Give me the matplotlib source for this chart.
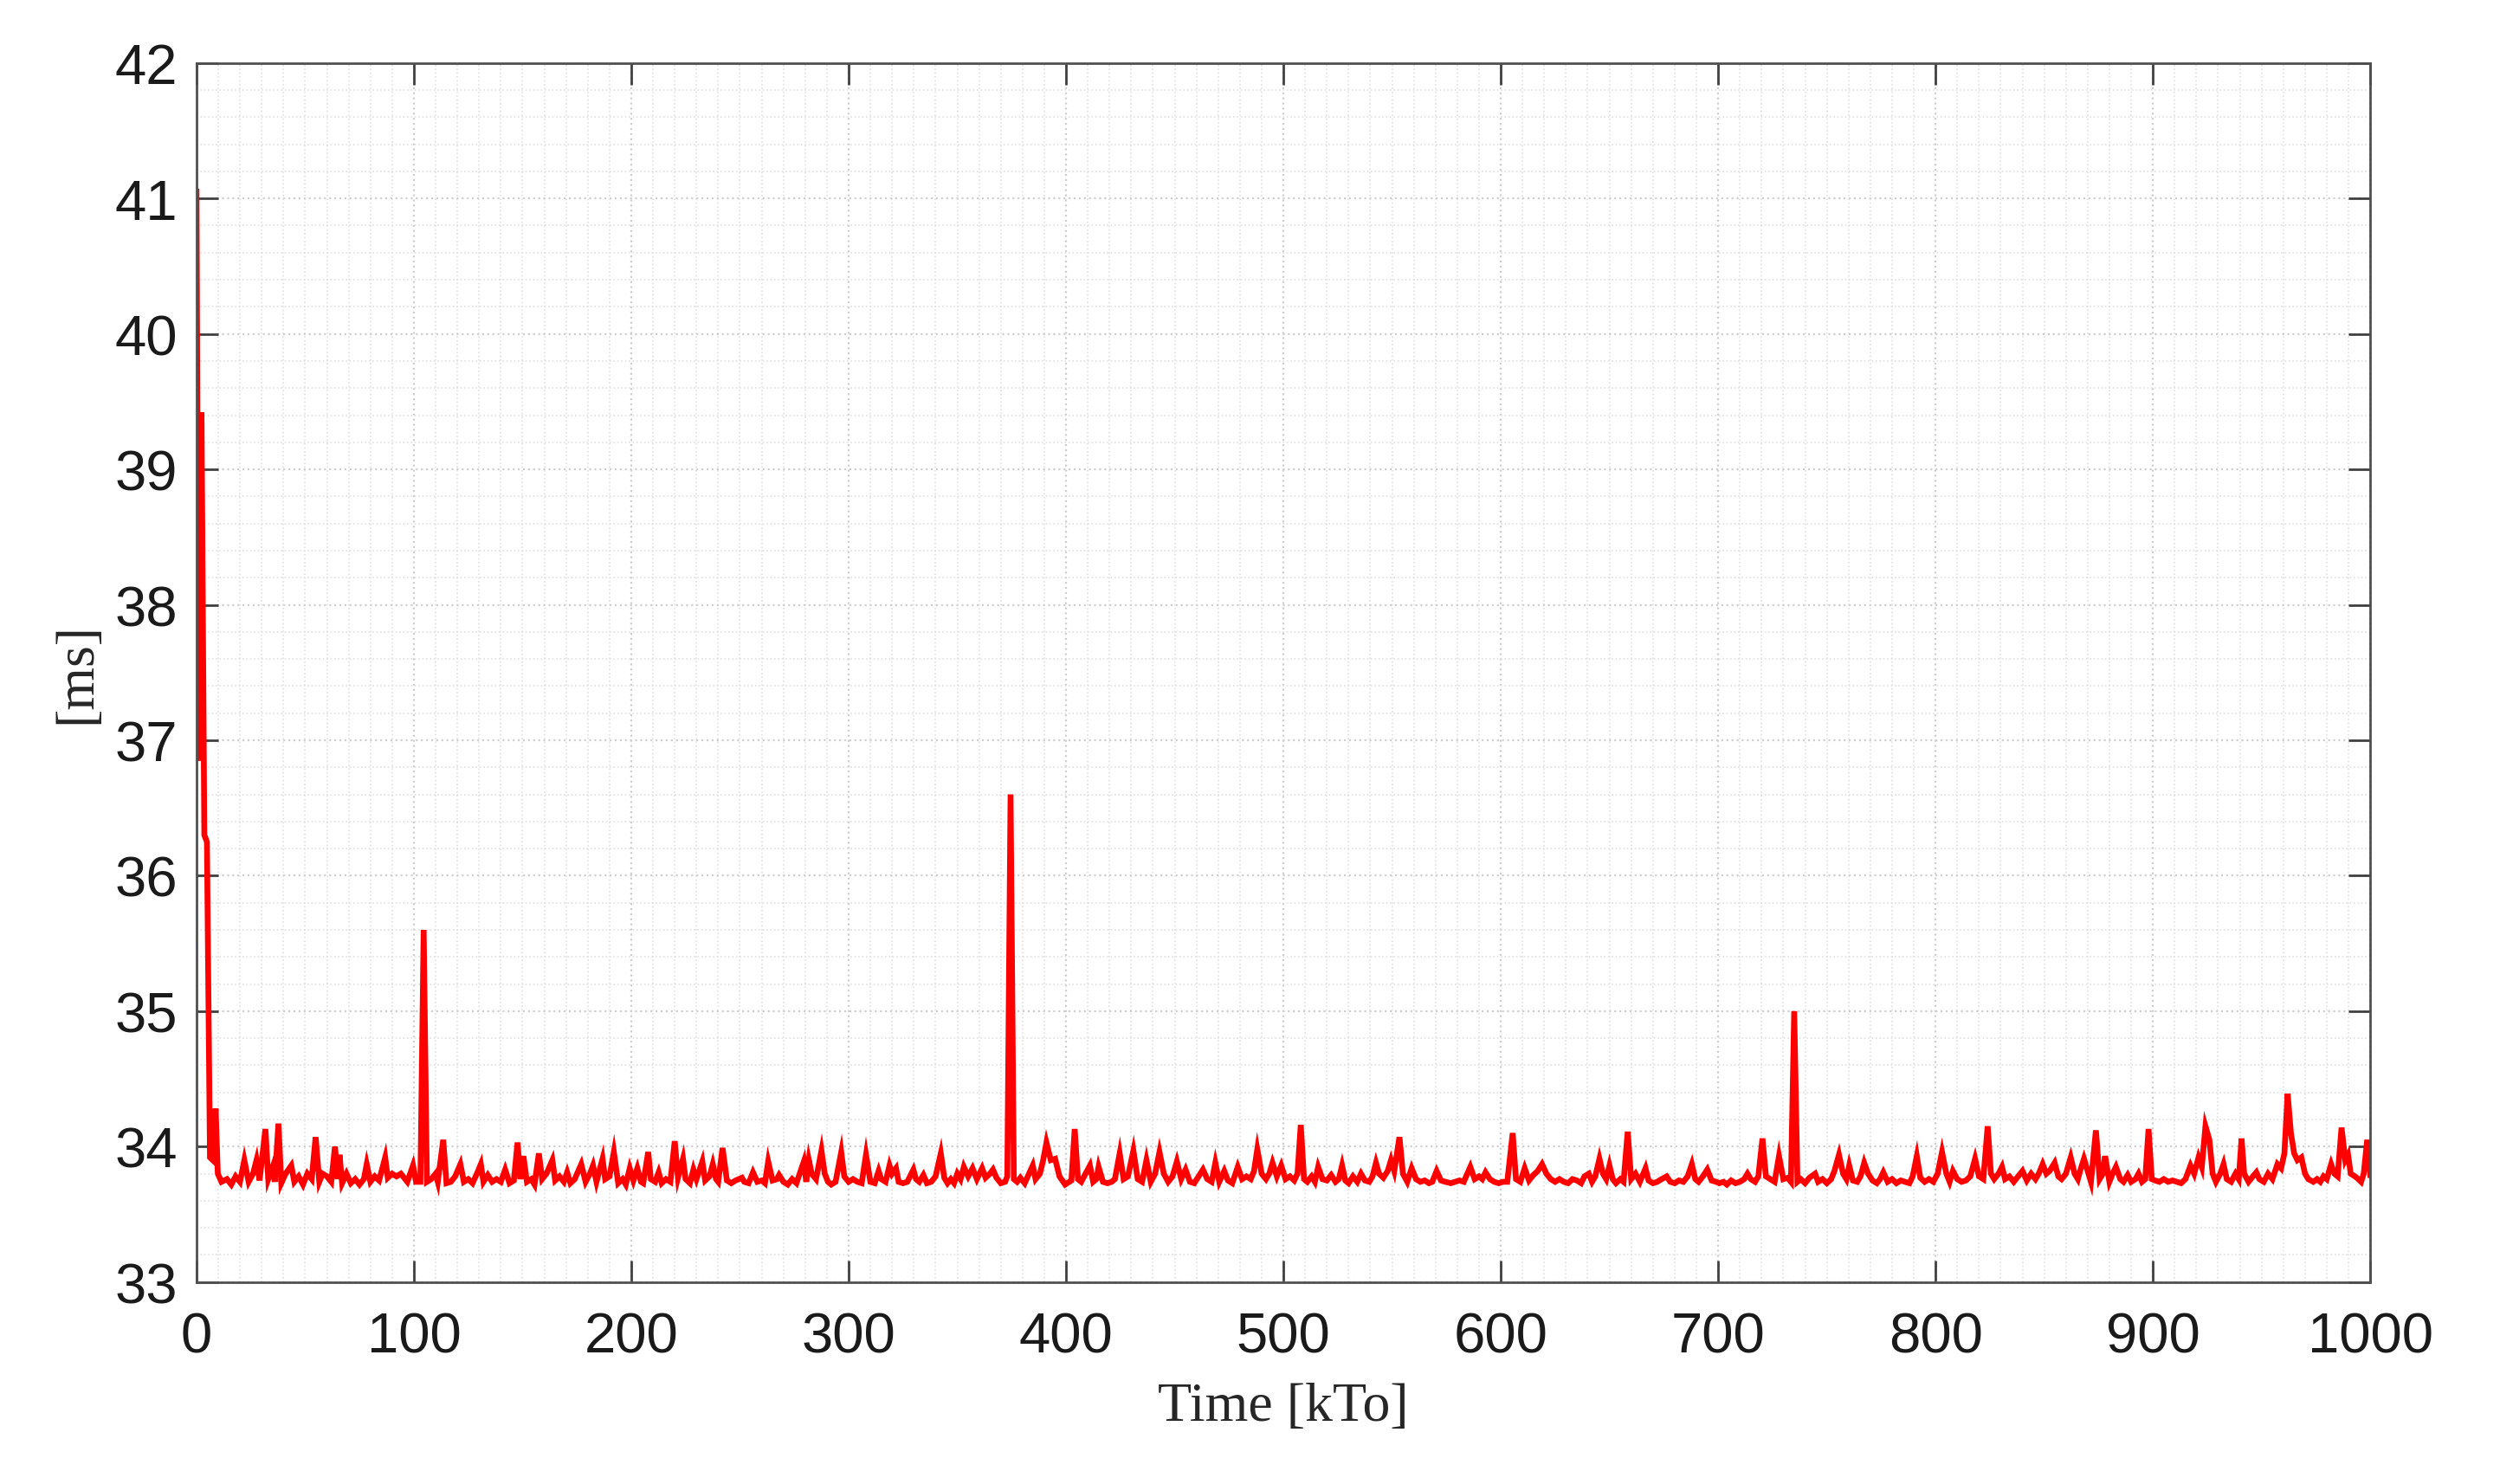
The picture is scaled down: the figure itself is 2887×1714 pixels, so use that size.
"""
Latency over time, recreated from the reference figure
"""

import matplotlib
matplotlib.use("Agg")
import matplotlib.pyplot as plt
from matplotlib import font_manager
from matplotlib.ticker import MultipleLocator

# data: (time [kTo], latency [ms])
startup = [(0, 41.05), (1.0, 36.85), (2.3, 39.42), (3.6, 36.3), (4.8, 36.25), (6.2, 33.92),
           (7.5, 33.9), (8.8, 34.28), (9.8, 33.8), (11.5, 33.74)]

seg_12_268 = [
    (14, 33.76), (16, 33.72), (18, 33.78), (20, 33.74), (22, 33.90), (24, 33.74), (26, 33.8),
    (27.6, 33.90), (29, 33.75), (31.7, 34.13), (33, 33.76), (35, 33.85), (36, 33.74), (37.7, 34.17),
    (39, 33.73), (41, 33.8), (43.6, 33.86), (45, 33.74), (47, 33.78), (49, 33.72), (51, 33.8),
    (53, 33.76), (54.8, 34.07), (56.5, 33.74), (58, 33.8), (60, 33.78), (62, 33.74), (63.7, 34.0),
    (65, 33.76), (65.8, 33.94), (67, 33.73), (69, 33.8), (71, 33.73), (73, 33.76), (75, 33.72),
    (77, 33.76), (78.3, 33.87), (80, 33.74), (82, 33.78), (84, 33.75), (86.8, 33.92), (88, 33.77),
    (90, 33.8), (92, 33.78), (94, 33.8), (96, 33.76), (97, 33.74), (99.6, 33.86), (101, 33.74),
    (103, 33.74), (104.5, 35.6), (106, 33.74), (108, 33.76), (110, 33.8), (111, 33.74), (113.5, 34.05),
    (115, 33.73), (117, 33.74), (119, 33.78), (121.4, 33.87), (123, 33.74), (125, 33.76), (127, 33.73),
    (129, 33.8), (130.8, 33.87), (132, 33.74), (134, 33.79), (136, 33.74), (138, 33.76), (140, 33.74),
    (142, 33.83), (144, 33.73), (146, 33.75), (147.7, 34.03), (149, 33.76), (150.4, 33.93), (152, 33.74),
    (154, 33.76), (155.5, 33.72), (157.5, 33.95), (159, 33.76), (161, 33.8), (163.7, 33.90), (165, 33.75),
    (167, 33.78), (169, 33.74), (170.5, 33.81), (172, 33.73), (174, 33.76), (177, 33.87), (179, 33.74),
    (181, 33.8), (182.4, 33.86), (184, 33.74), (186.8, 33.91), (188, 33.76), (190, 33.78), (192, 33.96),
    (194, 33.73), (196, 33.76), (197.5, 33.72), (199.3, 33.84), (201, 33.75), (202.8, 33.84), (204.5, 33.74),
    (205.5, 33.73), (207.8, 33.96), (209, 33.76), (211, 33.74), (212.6, 33.81), (214, 33.73), (216, 33.76),
    (218, 33.74), (220, 34.04), (221.5, 33.77), (223.8, 33.91), (225, 33.76), (227, 33.73), (228.6, 33.83),
    (230, 33.76), (232.7, 33.89), (234, 33.75), (236, 33.78), (237.5, 33.87), (239, 33.76), (240, 33.74),
    (242, 33.99), (244, 33.75), (246, 33.73), (248, 33.75), (250.9, 33.77), (252, 33.74), (254, 33.73),
    (256, 33.81), (258, 33.74), (260, 33.75), (261.5, 33.73), (263, 33.89), (265, 33.75), (267, 33.76),
]

seg_268_627 = [
    (268, 33.79), (270, 33.74), (272, 33.72), (274, 33.76), (276, 33.73), (279.4, 33.89), (280.5, 33.74),
    (281.7, 33.9), (283, 33.8), (285, 33.76), (287.5, 33.97), (289, 33.8), (290.5, 33.74), (292, 33.72),
    (294, 33.74), (296.6, 33.96), (298, 33.78), (300, 33.74), (302, 33.76), (304, 33.74), (306, 33.73),
    (308, 33.94), (310, 33.74), (312, 33.73), (313.8, 33.82), (315, 33.76), (317, 33.74), (318.8, 33.86),
    (320, 33.8), (321.8, 33.84), (323, 33.74), (325, 33.73), (327, 33.74), (329.8, 33.83), (331, 33.76),
    (332.5, 33.74), (334.4, 33.79), (336, 33.73), (338, 33.74), (340, 33.78), (342.4, 33.95), (344, 33.77),
    (345.5, 33.73), (347, 33.76), (348.5, 33.73), (350, 33.8), (351.5, 33.76), (353, 33.85), (355, 33.78),
    (357, 33.84), (359, 33.76), (361.4, 33.84), (363, 33.77), (365, 33.8), (366.4, 33.83), (368, 33.77),
    (370, 33.73), (372, 33.74), (373, 33.78), (374.5, 36.6), (376, 33.76), (377.5, 33.74), (379, 33.77),
    (381, 33.73), (383, 33.8), (384.7, 33.86), (386, 33.76), (388, 33.8), (389.5, 33.9), (391, 34.03),
    (393, 33.9), (395, 33.91), (397, 33.78), (399.6, 33.72), (401.5, 33.74), (402.5, 33.75), (404, 34.13),
    (405.5, 33.76), (407, 33.74), (409, 33.8), (411, 33.86), (412.5, 33.74), (414, 33.76), (415, 33.85),
    (417, 33.74), (419, 33.73), (421, 33.74), (422.5, 33.76), (424.7, 33.95), (426.5, 33.76), (428.5, 33.78),
    (431, 33.97), (433, 33.76), (435, 33.74), (437, 33.9), (439, 33.74), (441, 33.8), (443, 33.96),
    (445, 33.8), (447, 33.74), (449, 33.78), (451, 33.89), (453, 33.76), (455, 33.83), (457, 33.74),
    (459, 33.73), (461, 33.78), (463, 33.83), (465, 33.76), (467, 33.74), (468.7, 33.88), (470.5, 33.74),
    (472.8, 33.82), (474.5, 33.75), (476.5, 33.73), (479, 33.85), (481, 33.76), (483, 33.78), (485, 33.76),
    (486.5, 33.82), (488, 33.98), (490, 33.8), (492, 33.76), (493.5, 33.8), (495, 33.88), (497, 33.78),
    (499, 33.86), (501, 33.76), (503, 33.78), (505, 33.75), (506.5, 33.8), (508, 34.16), (509.5, 33.76),
    (511, 33.74), (513, 33.78), (514.5, 33.74), (516, 33.85), (518, 33.76), (520, 33.75), (522, 33.79),
    (524, 33.74), (525.5, 33.76), (527, 33.86), (528.5, 33.75), (530, 33.73), (532, 33.78), (534, 33.74),
    (535.7, 33.8), (537.5, 33.75), (539.5, 33.74), (541, 33.78), (542.6, 33.88), (544, 33.8), (546, 33.77),
    (548, 33.82), (549.5, 33.9), (551, 33.82), (553.4, 34.07), (555, 33.8), (557, 33.74), (559, 33.84),
    (561, 33.76), (563, 33.74), (565, 33.75), (567, 33.73), (568.5, 33.74), (570.5, 33.82), (572.5, 33.75),
    (574.5, 33.74), (577, 33.73), (579, 33.74), (581, 33.75), (583, 33.74), (586, 33.85), (588, 33.76),
    (590, 33.78), (591.5, 33.76), (593, 33.81), (595, 33.76), (597, 33.74), (599, 33.73), (601, 33.74),
    (603, 33.74), (605.5, 34.10), (607, 33.76), (609, 33.74), (611, 33.84), (613, 33.75), (615, 33.79),
    (617, 33.82), (619, 33.87), (621, 33.8), (623, 33.76), (625, 33.74), (627, 33.76),
]

seg_627_1000 = [
    (629, 33.74), (631, 33.73), (633, 33.76), (635, 33.75), (637, 33.73), (638.5, 33.78), (640.5, 33.80),
    (642, 33.74), (643.5, 33.78), (645.4, 33.91), (647, 33.8), (648.5, 33.76), (650, 33.86), (651.5, 33.76),
    (653, 33.73), (655, 33.76), (656.5, 33.74), (658.4, 34.11), (660, 33.76), (662, 33.8), (664, 33.74),
    (666.6, 33.84), (668, 33.75), (670, 33.73), (672, 33.74), (674, 33.76), (676.3, 33.78), (678, 33.74),
    (680, 33.73), (682, 33.75), (684, 33.74), (686, 33.78), (687.9, 33.87), (689.5, 33.76), (691, 33.74),
    (693, 33.78), (695, 33.83), (697, 33.75), (699, 33.74), (700.5, 33.73), (702.5, 33.74), (704, 33.72),
    (706, 33.75), (708, 33.73), (710, 33.74), (712, 33.76), (713.5, 33.80), (715, 33.76), (717, 33.74),
    (718.5, 33.78), (720.4, 34.06), (722, 33.78), (724, 33.76), (726, 33.74), (728, 33.93), (730, 33.76),
    (732, 33.77), (733.5, 33.74), (735, 35.0), (736.5, 33.74), (738, 33.76), (740, 33.73), (742, 33.77),
    (744.6, 33.80), (746, 33.74), (748, 33.76), (750, 33.73), (752, 33.76), (753.5, 33.82), (755.6, 33.94),
    (757.5, 33.8), (759, 33.76), (760.3, 33.86), (762, 33.75), (764, 33.74), (765.5, 33.78), (767.2, 33.88),
    (769, 33.8), (771, 33.75), (773, 33.73), (774.5, 33.76), (776, 33.81), (778, 33.74), (780, 33.76),
    (782, 33.73), (784, 33.75), (786, 33.74), (788, 33.73), (789.5, 33.78), (791.4, 33.93), (793, 33.77),
    (795, 33.74), (797, 33.76), (799, 33.74), (801, 33.8), (803, 33.96), (805, 33.8), (806.5, 33.74),
    (808, 33.82), (810, 33.76), (812, 33.74), (814, 33.75), (816, 33.78), (818.2, 33.91), (820, 33.78),
    (822, 33.76), (824, 34.15), (825.5, 33.8), (827, 33.76), (829, 33.8), (830.6, 33.85), (832, 33.76),
    (834, 33.78), (836, 33.74), (838, 33.78), (840, 33.82), (842, 33.75), (844, 33.8), (846, 33.76),
    (847.5, 33.8), (849.3, 33.87), (851, 33.8), (852.5, 33.82), (854.8, 33.88), (856.5, 33.78), (858, 33.76),
    (860, 33.8), (862.2, 33.92), (864, 33.8), (865.5, 33.76), (866.5, 33.82), (868.3, 33.91), (870, 33.82),
    (871.5, 33.74), (873.8, 34.12), (875.5, 33.76), (877, 33.8), (878, 33.93), (880, 33.74), (881.5, 33.8),
    (883, 33.85), (885, 33.76), (886.5, 33.74), (888.4, 33.79), (890, 33.74), (892, 33.76), (893.4, 33.8),
    (895, 33.74), (896.5, 33.76), (898, 34.13), (899.5, 33.76), (901, 33.75), (903, 33.74), (905, 33.76),
    (907, 33.74), (909, 33.75), (911, 33.74), (913, 33.73), (915, 33.76), (917.3, 33.86), (919, 33.8),
    (921, 33.92), (922.5, 33.85), (924.2, 34.15), (926, 34.05), (927.5, 33.8), (929, 33.74), (931, 33.8),
    (932.5, 33.87), (934, 33.76), (936, 33.74), (938, 33.8), (939.5, 33.76), (940.8, 34.06), (942, 33.8),
    (944, 33.74), (946, 33.78), (947.6, 33.81), (949, 33.76), (951, 33.74), (953, 33.8), (955, 33.76),
    (957.3, 33.87), (959, 33.84), (960.5, 33.95), (962, 34.39), (963.5, 34.1), (965, 33.95), (966.5, 33.9),
    (968.3, 33.92), (970, 33.8), (971.5, 33.76), (973.8, 33.74), (975.5, 33.76), (977, 33.74), (978.5, 33.78),
    (980, 33.76), (982, 33.87), (983.5, 33.8), (985, 33.78), (986.8, 34.14), (988.5, 33.9), (989.8, 33.94),
    (991, 33.8), (993, 33.78), (994.5, 33.76), (995.8, 33.74), (997, 33.8), (998.6, 34.05), (1000, 33.79),
]

x_ticks = list(range(0, 1001, 100))
y_ticks = list(range(33, 43))


def pick_font(names):
    for name in names:
        try:
            font_manager.findfont(name, fallback_to_default=False)
            return name
        except Exception:
            continue
    return "DejaVu Sans"


if __name__ == "__main__":
    points = startup + seg_12_268 + seg_268_627 + seg_627_1000
    t = [p[0] for p in points]
    ms = [p[1] for p in points]

    tick_font = pick_font(["Liberation Sans Narrow", "Liberation Sans"])
    label_font = pick_font(["Liberation Serif", "DejaVu Serif"])

    fig = plt.figure(figsize=(14.435, 8.575), dpi=200)
    ax = fig.add_axes([0.0786, 0.136, 0.8695, 0.821])

    ax.plot(t, ms, color="#ff0000", lw=2.4, solid_joinstyle="miter")

    ax.set_xlim(0, 1000)
    ax.set_ylim(33, 42)
    ax.set_xticks(x_ticks)
    ax.set_yticks(y_ticks)
    ax.xaxis.set_minor_locator(MultipleLocator(10))
    ax.yaxis.set_minor_locator(MultipleLocator(0.2))

    # matlab-ish grid: dotted major + lighter minor
    ax.grid(True, which="major", ls=":", color="#cfcfcf", lw=0.8)
    ax.grid(True, which="minor", ls=":", color="#e0e0e0", lw=0.6)
    ax.set_axisbelow(True)

    ax.tick_params(which="major", direction="in", length=9, width=1.0, color="#404040",
                   top=True, right=True, labelsize=23.5, pad=8)
    ax.tick_params(axis="x", which="major", pad=12)
    ax.tick_params(which="minor", length=0)
    for lab in ax.get_xticklabels() + ax.get_yticklabels():
        lab.set_family(tick_font)
        lab.set_color("#1a1a1a")
    for sp in ax.spines.values():
        sp.set_color("#505050")
        sp.set_linewidth(1.0)

    ax.set_xlabel("Time [kTo]", family=label_font, fontsize=23, color="#262626", labelpad=8)
    ax.set_ylabel("[ms]", family=label_font, fontsize=23, color="#262626", labelpad=5)

    fig.savefig("out.png", dpi=200)
